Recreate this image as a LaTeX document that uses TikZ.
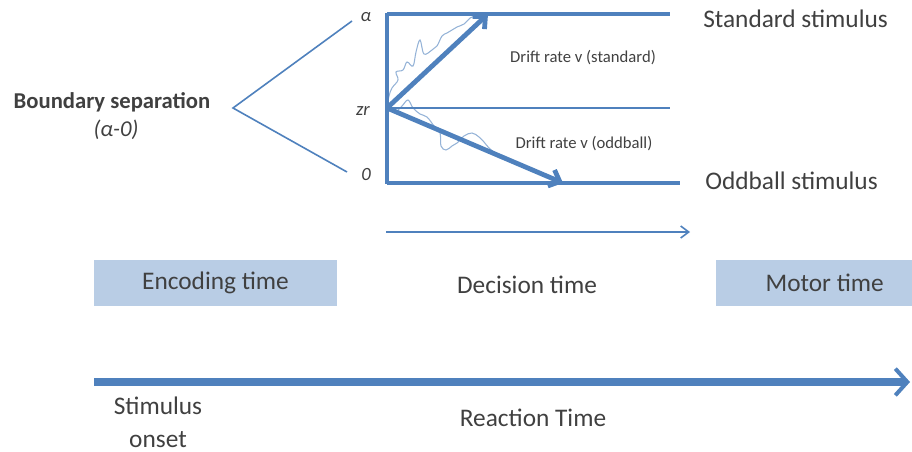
\documentclass[tikz,border=0pt]{standalone}
\usepackage{fontspec}
\setmainfont{Carlito}
\usetikzlibrary{arrows.meta}
\definecolor{lblue}{HTML}{4F81BD}
\definecolor{nblue}{HTML}{95B3D7}
\definecolor{boxfill}{HTML}{B9CDE5}
\definecolor{txt}{HTML}{404040}
\tikzset{
  lbl/.style={text=txt, inner sep=0pt, font=\fontsize{19}{21}\selectfont},
  small/.style={text=txt, inner sep=0pt, font=\fontsize{12.5}{14}\selectfont},
  bnd/.style={text=txt, inner sep=0pt, font=\itshape\fontsize{14}{16}\selectfont},
  frame/.style={draw=lblue, line width=3pt},
  drift/.style={draw=lblue, line width=3.6pt, -{Straight Barb[length=7pt,width=13pt]}},
  noise/.style={draw=nblue, line width=0.8pt},
  phasebox/.style={fill=boxfill, minimum width=182pt, minimum height=34.5pt, inner sep=0pt, text=txt, font=\fontsize{19}{21}\selectfont},
}
\begin{document}
\begin{tikzpicture}[x=0.75pt, y=-0.75pt]
\useasboundingbox (0,0) rectangle (912,452);
% frame coordinates
\coordinate (tl) at (387,14);
\coordinate (tr) at (670,14);
\coordinate (bl) at (387,183);
\coordinate (br) at (680,183);
\coordinate (ml) at (387,108);
\coordinate (mr) at (670,108);
\coordinate (uEnd) at (488,14);
\coordinate (lEnd) at (563,183);
% noise paths
\draw[noise] plot[smooth, tension=0.6] coordinates {(387,108) (389,96) (392,88) (398,80) (396,72) (403,70) (407,62) (413,66) (416,52) (420,40) (424,54) (432,50) (437,46) (442,36) (447,33) (452,30) (457,27) (464,24) (470,18) (476,16) (482,13)};
\draw[noise] plot[smooth, tension=0.6] coordinates {(387,108) (395,112) (402,106) (408,100) (413,108) (420,114) (427,117) (434,126) (440,133) (441,146) (446,150) (452,146) (457,143) (464,136) (472,133) (479,137) (484,142) (490,149) (500,156)};
% frame
\draw[draw=lblue, line width=0.9pt] (ml) -- (mr);
\draw[frame] (tl) -- (tr);
\draw[frame] (bl) -- (br);
\draw[frame] ([yshift=1pt]tl) -- ([yshift=-1pt]bl);
% drift arrows
\draw[drift] (ml) -- (uEnd);
\draw[drift] (ml) -- (lEnd);
% axis labels
\node[bnd] (alpha) at (366,17) {α};
\node[bnd] (zr) at (363,111) {zr};
\node[bnd] (zero) at (366,175) {0};
% drift labels
\node[small] (dstd) at (583,58) {Drift rate v (standard)};
\node[small] (dodd) at (584,144) {Drift rate v (oddball)};
% stimulus labels
\node[lbl, anchor=west] (std) at (703,19) {Standard stimulus};
\node[lbl, anchor=west] (odd) at (705,181) {Oddball stimulus};
% boundary separation
\node[text=txt, inner sep=0pt, font=\bfseries\fontsize{17}{19}\selectfont] (bs) at (112,102) {Boundary separation};
\node[bnd, font=\itshape\fontsize{17}{19}\selectfont] (bsv) at (116,130) {(α-0)};
\coordinate (vtx) at (233,108);
\coordinate (btop) at (352,21);
\coordinate (bbot) at (347,172);
\draw[draw=lblue, line width=1.2pt] (btop) -- (vtx) -- (bbot);
% decision arrow
\coordinate (da1) at (386,232);
\coordinate (da2) at (690,232);
\draw[draw=lblue, line width=1.2pt, -{Straight Barb[length=6pt,width=9pt]}] (da1) -- (da2);
% phases
\node[phasebox] (enc) at (215.5,283) {Encoding time};
\node[lbl] (dec) at (527,285) {Decision time};
\node[phasebox, minimum width=147pt] (mot) at (814,283) {\hspace*{16pt}Motor time};
% reaction time arrow
\coordinate (ra1) at (94,382);
\coordinate (ra2) at (910,382);
\draw[draw=lblue, line width=6pt, -{Straight Barb[length=9pt,width=20pt,line width=3pt]}] (ra1) -- (ra2);
\node[lbl, align=center, font=\fontsize{19}{24.5}\selectfont] (so) at (158,422) {Stimulus\\onset};
\node[lbl] (rt) at (533,418) {Reaction Time};
\end{tikzpicture}
\end{document}
